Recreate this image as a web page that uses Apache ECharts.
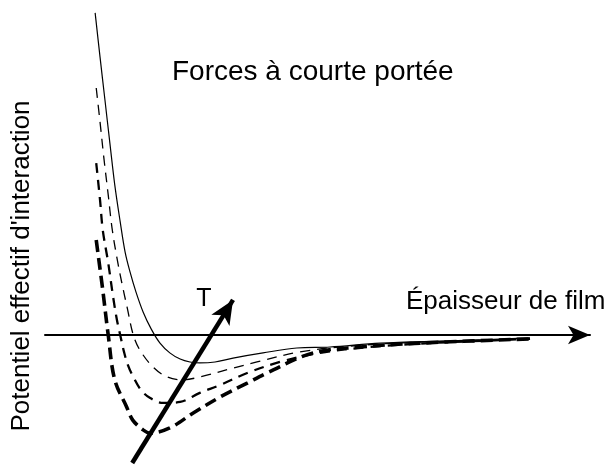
<!DOCTYPE html>
<html>
<head>
<meta charset="utf-8">
<script src="https://cdn.jsdelivr.net/npm/echarts@6/dist/echarts.min.js"></script>
<style>
  html, body { margin: 0; padding: 0; background: #fff; }
  #chart { width: 609px; height: 465px; }
</style>
</head>
<body>
<div id="chart"></div>
<script>
// courbes : [épaisseur, potentiel] (unités arbitraires)
const courbeSolide = [
  [0.92, 9.91], [1.01, 8.55], [1.10, 7.23], [1.19, 5.91], [1.28, 4.62], [1.38, 3.48],
  [1.47, 2.55], [1.56, 1.94], [1.67, 1.32], [1.80, 0.71], [1.95, 0.18], [2.11, -0.25],
  [2.29, -0.55], [2.48, -0.74], [2.66, -0.83], [2.84, -0.86], [3.12, -0.83], [3.45, -0.71],
  [4.00, -0.55], [4.62, -0.40], [5.23, -0.37], [6.15, -0.25], [7.43, -0.18], [8.90, -0.09]
];
const courbeFine = [
  [0.94, 7.60], [1.01, 6.55], [1.08, 5.45], [1.16, 4.31], [1.23, 3.29], [1.32, 2.37],
  [1.41, 1.60], [1.51, 0.83], [1.62, 0], [1.74, -0.46], [1.98, -0.98], [2.24, -1.29],
  [2.53, -1.38], [2.84, -1.29], [3.45, -1.02], [3.89, -0.83], [4.68, -0.52], [5.60, -0.34],
  [6.88, -0.22], [8.90, -0.12]
];
const courbeMoyenne = [
  [0.94, 5.29], [1.01, 4.15], [1.06, 3.23], [1.16, 2.22], [1.25, 1.17], [1.32, 0.46],
  [1.38, 0], [1.45, -0.52], [1.52, -0.92], [1.62, -1.29], [1.76, -1.69], [1.93, -1.94],
  [2.17, -2.09], [2.48, -2.06], [2.84, -1.78], [3.21, -1.54], [3.71, -1.17], [4.31, -0.83],
  [5.05, -0.55], [5.96, -0.37], [7.06, -0.25], [8.90, -0.12]
];
const courbeEpaisse = [
  [0.94, 2.92], [1.06, 1.38], [1.16, 0], [1.28, -1.38], [1.50, -2.22], [1.61, -2.62],
  [1.80, -2.92], [1.93, -3.02], [2.29, -2.86], [2.72, -2.40], [3.21, -1.91], [3.71, -1.48],
  [4.07, -1.17], [4.92, -0.55], [5.78, -0.37], [6.88, -0.25], [8.90, -0.12]
];
// flèche de température : départ, pointe
const flecheT = [[1.60, -3.94], [3.45, 1.08]];

const police = 'Liberation Sans, Arial, Helvetica, sans-serif';

const chart = echarts.init(document.getElementById('chart'));

const option = {
  animation: false,
  backgroundColor: '#fff',
  title: {
    text: 'Forces à courte portée',
    left: 172,
    top: 58,
    padding: 0,
    textStyle: { fontFamily: police, fontSize: 28, fontWeight: 'normal', color: '#000' }
  },
  grid: { left: 45, right: 19, top: 10, bottom: 0 },
  xAxis: {
    type: 'value',
    min: 0,
    max: 10,
    axisLine: {
      show: true,
      onZero: true,
      symbol: ['none', 'arrow'],
      symbolSize: [14, 22],
      lineStyle: { color: '#000', width: 2 }
    },
    axisTick: { show: false },
    axisLabel: { show: false },
    splitLine: { show: false }
  },
  yAxis: {
    type: 'value',
    min: -4,
    max: 10,
    axisLine: { show: false },
    axisTick: { show: false },
    axisLabel: { show: false },
    splitLine: { show: false }
  },
  graphic: [
    {
      type: 'text',
      x: 22,
      y: 266,
      rotation: Math.PI / 2,
      style: {
        text: "Potentiel effectif d'interaction",
        font: '26px ' + police,
        fill: '#000',
        align: 'center',
        verticalAlign: 'middle'
      }
    },
    {
      type: 'text',
      x: 406,
      y: 302,
      style: {
        text: 'Épaisseur de film',
        font: '26px ' + police,
        fill: '#000',
        align: 'left',
        verticalAlign: 'middle'
      }
    },
    {
      type: 'text',
      x: 204,
      y: 299,
      style: {
        text: 'T',
        font: '25px ' + police,
        fill: '#000',
        align: 'center',
        verticalAlign: 'middle'
      }
    }
  ],
  series: [
    {
      type: 'line',
      data: courbeSolide,
      smooth: 0.35,
      showSymbol: false,
      lineStyle: { color: '#000', width: 1.2 }
    },
    {
      type: 'line',
      data: courbeFine,
      smooth: 0.35,
      showSymbol: false,
      lineStyle: { color: '#000', width: 1.3, type: [10, 7] }
    },
    {
      type: 'line',
      data: courbeMoyenne,
      smooth: 0.35,
      showSymbol: false,
      lineStyle: { color: '#000', width: 2.3, type: [10, 7] }
    },
    {
      type: 'line',
      data: courbeEpaisse,
      smooth: 0.35,
      showSymbol: false,
      lineStyle: { color: '#000', width: 3.6, type: [12, 6] }
    },
    {
      type: 'line',
      data: [],
      markLine: {
        silent: true,
        symbol: ['none', 'arrow'],
        symbolSize: [16, 24],
        label: { show: false },
        lineStyle: { color: '#000', width: 4.5, type: 'solid' },
        data: [[{ coord: flecheT[0] }, { coord: flecheT[1] }]]
      }
    }
  ]
};

chart.setOption(option);
</script>
</body>
</html>
